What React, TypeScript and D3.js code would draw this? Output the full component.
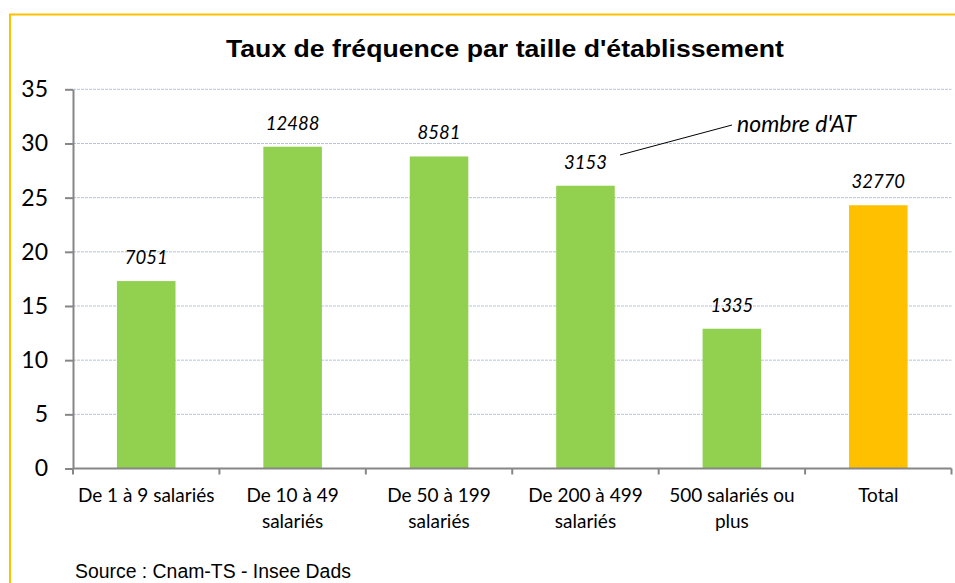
import React, { useEffect, useRef } from 'react';
import * as d3 from 'd3';

const categories = [
  ['De 1 à 9 salariés'],
  ['De 10 à 49', 'salariés'],
  ['De 50 à 199', 'salariés'],
  ['De 200 à 499', 'salariés'],
  ['500 salariés ou', 'plus'],
  ['Total'],
];
const rates = [17.3, 29.7, 28.8, 26.1, 12.9, 24.3];
const accidents = ['7051', '12488', '8581', '3153', '1335', '32770'];
const yTicks = [0, 5, 10, 15, 20, 25, 30, 35];

const W = 955;
const H = 583;
const calibri = 'Lato, "Open Sans", sans-serif';

const App = () => {
  const ref = useRef<SVGSVGElement>(null);

  useEffect(() => {
    const svg = d3.select(ref.current).attr('width', W).attr('height', H);
    svg.selectAll('*').remove();

    const left = 73, right = 951.5, top = 89.3, bottom = 468.5;

    const x = d3.scaleBand<number>()
      .domain(rates.map((d, i) => i))
      .range([left, right])
      .paddingInner(0.6)
      .paddingOuter(0.3);
    const y = d3.scaleLinear().domain([0, 35]).range([bottom, top]);

    // frame
    svg.append('rect')
      .attr('x', 10).attr('y', 14.5)
      .attr('width', W + 20).attr('height', H + 20)
      .attr('fill', 'white')
      .attr('stroke', '#FFC000')
      .attr('stroke-width', 2);

    // title
    svg.append('text')
      .attr('x', 505).attr('y', 57)
      .attr('text-anchor', 'middle')
      .attr('textLength', 558)
      .attr('lengthAdjust', 'spacingAndGlyphs')
      .style('font-family', '"Liberation Sans", Arial, sans-serif')
      .style('font-weight', 'bold')
      .style('font-size', '24px')
      .text("Taux de fréquence par taille d'établissement");

    // gridlines
    svg.append('g')
      .selectAll('line')
      .data(yTicks.filter(t => t > 0))
      .enter()
      .append('line')
      .attr('x1', left).attr('x2', right)
      .attr('y1', d => y(d)).attr('y2', d => y(d))
      .attr('stroke', '#B4C3DA')
      .attr('stroke-width', 1)
      .attr('stroke-dasharray', '3,1');

    // bars
    svg.append('g')
      .selectAll('rect')
      .data(rates)
      .enter()
      .append('rect')
      .attr('x', (d, i) => x(i)!)
      .attr('y', d => y(d))
      .attr('width', x.bandwidth())
      .attr('height', d => bottom - y(d))
      .attr('fill', (d, i) => (i === rates.length - 1 ? '#FFC000' : '#92D050'));

    // data labels
    svg.append('g')
      .selectAll('text')
      .data(rates)
      .enter()
      .append('text')
      .attr('x', (d, i) => x(i)! + x.bandwidth() / 2)
      .attr('y', d => y(d) - 17)
      .attr('text-anchor', 'middle')
      .style('font-family', calibri)
      .style('font-style', 'italic')
      .style('font-size', '18.5px')
      .text((d, i) => accidents[i]);

    // y axis
    const yAxis = svg.append('g')
      .attr('transform', `translate(${left},0)`)
      .call(d3.axisLeft(y).tickValues(yTicks).tickSize(8).tickPadding(17).tickSizeOuter(0));
    yAxis.select('.domain').attr('stroke', '#868686').attr('stroke-width', 2);
    yAxis.selectAll('.tick line').attr('stroke', '#868686').attr('stroke-width', 2);
    yAxis.selectAll('.tick text')
      .attr('fill', '#000')
      .style('font-family', calibri)
      .style('font-size', '23px');

    // x axis
    const step = x.step();
    const bounds = d3.range(rates.length + 1).map(i => left + i * step);
    svg.append('line')
      .attr('x1', left).attr('x2', right)
      .attr('y1', bottom).attr('y2', bottom)
      .attr('stroke', '#868686').attr('stroke-width', 2);
    svg.append('g')
      .selectAll('line')
      .data(bounds)
      .enter()
      .append('line')
      .attr('x1', d => d).attr('x2', d => d)
      .attr('y1', bottom).attr('y2', bottom + 6)
      .attr('stroke', '#868686').attr('stroke-width', 2);

    const cat = svg.append('g')
      .selectAll('text')
      .data(categories)
      .enter()
      .append('text')
      .attr('x', (d, i) => x(i)! + x.bandwidth() / 2)
      .attr('y', 502)
      .attr('text-anchor', 'middle')
      .style('font-family', calibri)
      .style('font-size', '19px');
    cat.selectAll('tspan')
      .data(d => d)
      .enter()
      .append('tspan')
      .attr('x', function () {
        return (this.parentNode as SVGTextElement).getAttribute('x');
      })
      .attr('dy', (d, i) => (i === 0 ? 0 : 26))
      .text(d => d);

    // annotation
    svg.append('line')
      .attr('x1', 620).attr('y1', 155)
      .attr('x2', 732).attr('y2', 125)
      .attr('stroke', '#000').attr('stroke-width', 1);
    svg.append('text')
      .attr('x', 737).attr('y', 132)
      .style('font-family', calibri)
      .style('font-style', 'italic')
      .style('font-size', '23px')
      .text("nombre d'AT");

    // source
    svg.append('text')
      .attr('x', 75).attr('y', 578)
      .style('font-family', '"Liberation Sans", Arial, sans-serif')
      .style('font-size', '19.4px')
      .text('Source : Cnam-TS - Insee Dads');
  }, []);

  return <svg ref={ref} style={{ position: 'absolute', left: 0, top: 0 }}></svg>;
};

export default App;
